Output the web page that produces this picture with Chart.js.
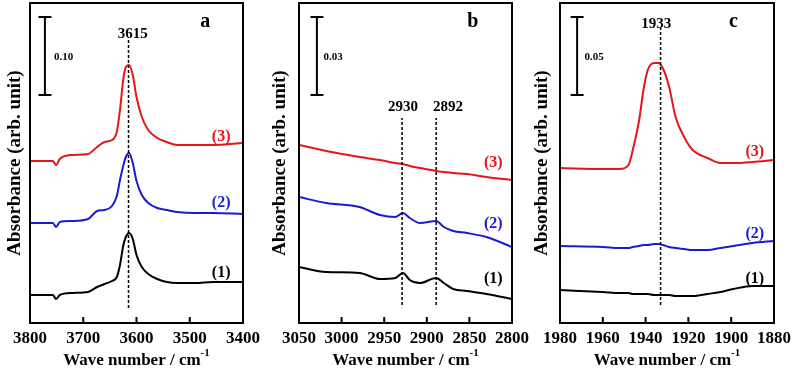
<!DOCTYPE html>
<html>
<head>
<meta charset="utf-8">
<script src="https://cdn.jsdelivr.net/npm/chart.js@4.4.1/dist/chart.umd.min.js"></script>
<style>
  body { margin: 0; background: #fff; width: 795px; height: 375px; overflow: hidden; position: relative; }
  canvas { position: absolute; top: 0; }
</style>
</head>
<body>
<canvas id="panelA" width="262" height="375" style="left:0px"></canvas>
<canvas id="panelB" width="268" height="375" style="left:262px"></canvas>
<canvas id="panelC" width="265" height="375" style="left:530px"></canvas>
<script>
// panel a : O-H region
const waveA = [3800, 3757, 3751, 3744, 3721, 3691, 3674, 3660, 3646, 3637, 3631, 3625, 3620, 3614, 3607, 3600, 3590, 3578, 3561, 3543, 3524, 3490, 3456, 3400];
const absA1 = [28, 28, 24, 28, 30, 31, 36, 39, 42, 46, 58, 77, 86, 90, 84, 68, 56, 49, 44, 41, 40, 40, 41, 41];
const absA2 = [100, 100, 96, 101, 102, 104, 112, 113, 117, 127, 143, 157, 166, 170, 160, 142, 128, 120, 115, 113, 111, 110, 110, 109];
const absA3 = [162, 162, 158, 164, 168, 169, 176, 181, 183, 191, 213, 243, 256, 258, 248, 226, 206, 193, 185, 181, 178, 178, 178, 180];
const ticksA = [3800, 3700, 3600, 3500, 3400];

// panel b : C-H region
const waveB = [3050, 3018, 2979, 2955, 2937, 2928, 2920, 2908, 2889, 2880, 2869, 2853, 2830, 2800];
const absB1 = [56, 51, 50, 44, 45, 50, 43, 40, 45, 40, 34, 32, 29, 24];
const absB2 = [126, 120, 116, 108, 106, 110, 105, 100, 102, 96, 92, 90, 86, 76];
const absB3 = [178, 172, 166, 163, 160, 159, 157, 155, 152, 151, 150, 149, 146, 143];
const ticksB = [3050, 3000, 2950, 2900, 2850, 2800];

// panel c : carbonyl region
const waveC = [1980, 1960, 1952, 1948, 1946, 1943, 1941, 1939, 1936, 1934, 1932, 1929, 1926, 1922, 1918, 1911, 1905, 1899, 1890, 1880];
const absC1 = [33, 31, 30, 30, 29, 29, 29, 29, 28, 28, 28, 28, 27, 27, 27, 29, 31, 34, 37, 37];
const absC2 = [77, 76, 75, 75, 76, 77, 78, 78, 79, 79, 78, 76, 75, 74, 73, 73, 75, 77, 80, 82];
const absC3 = [155, 154, 154, 158, 173, 203, 233, 253, 260, 260, 255, 236, 206, 186, 173, 165, 160, 160, 161, 163];
const ticksC = [1980, 1960, 1940, 1920, 1900, 1880];

const serif = "'Liberation Serif', 'Times New Roman', serif";
const RED = "#e3161c";
const BLUE = "#1b1bd2";

const panelDecor = {
  id: "panelDecor",
  afterDraw(chart, args, opts) {
    const { ctx, chartArea: area } = chart;
    const x = chart.scales.x;
    const y = chart.scales.y;
    ctx.save();
    ctx.strokeStyle = "#000";
    ctx.lineWidth = 2;
    ctx.strokeRect(area.left, area.top, area.right - area.left, area.bottom - area.top);

    // ticks pointing inward
    x.ticks.forEach((t) => {
      const px = x.getPixelForValue(t.value);
      ctx.beginPath();
      ctx.moveTo(px, area.bottom);
      ctx.lineTo(px, area.bottom - 6);
      ctx.stroke();
    });

    // scale bar
    const bx = x.getPixelForValue(opts.bar.x);
    const by1 = y.getPixelForValue(opts.bar.top);
    const by2 = y.getPixelForValue(opts.bar.bottom);
    ctx.beginPath();
    ctx.moveTo(bx, by1);
    ctx.lineTo(bx, by2);
    ctx.moveTo(bx - 6.5, by1);
    ctx.lineTo(bx + 6.5, by1);
    ctx.moveTo(bx - 6.5, by2);
    ctx.lineTo(bx + 6.5, by2);
    ctx.stroke();

    ctx.textAlign = "center";
    ctx.textBaseline = "middle";
    opts.texts.forEach((t) => {
      ctx.fillStyle = t.color || "#000";
      ctx.font = `bold ${t.size}px ${serif}`;
      ctx.fillText(t.text, x.getPixelForValue(t.x), y.getPixelForValue(t.y));
    });

    // x title with superscript
    const main = "Wave number / cm";
    const sup = "-1";
    ctx.fillStyle = "#000";
    ctx.textBaseline = "alphabetic";
    ctx.textAlign = "left";
    ctx.font = `bold 17px ${serif}`;
    const w1 = ctx.measureText(main).width;
    ctx.font = `bold 11px ${serif}`;
    const w2 = ctx.measureText(sup).width;
    const cx = (area.left + area.right) / 2;
    const start = cx - (w1 + w2) / 2;
    ctx.font = `bold 17px ${serif}`;
    ctx.fillText(main, start, 365);
    ctx.font = `bold 11px ${serif}`;
    ctx.fillText(sup, start + w1, 356);
    ctx.restore();
  },
};

function lineSet(values, waves, color) {
  return {
    data: waves.map((w, i) => ({ x: w, y: values[i] })),
    borderColor: color,
    borderWidth: 2,
    pointRadius: 0,
    cubicInterpolationMode: "monotone",
  };
}

function dashSet(wave, from, to) {
  return {
    data: [{ x: wave, y: from }, { x: wave, y: to }],
    borderColor: "#000",
    borderWidth: 1.5,
    borderDash: [3, 2],
    pointRadius: 0,
  };
}

function makePanel(id, cfg) {
  new Chart(document.getElementById(id), {
    type: "line",
    data: {
      datasets: [
        ...cfg.dashes,
        lineSet(cfg.s1, cfg.waves, "#000"),
        lineSet(cfg.s2, cfg.waves, BLUE),
        lineSet(cfg.s3, cfg.waves, RED),
      ],
    },
    options: {
      responsive: false,
      animation: false,
      devicePixelRatio: 1,
      layout: { padding: cfg.padding },
      plugins: {
        legend: { display: false },
        tooltip: { enabled: false },
        panelDecor: cfg.decor,
      },
      scales: {
        x: {
          type: "linear",
          reverse: true,
          min: cfg.ticks[cfg.ticks.length - 1],
          max: cfg.ticks[0],
          afterBuildTicks: (scale) => {
            scale.ticks = cfg.ticks.map((v) => ({ value: v }));
          },
          afterFit: (scale) => {
            scale.height = 52;
            // let the layout padding alone decide the plot edges
            scale.paddingLeft = 0;
            scale.paddingRight = 0;
          },
          grid: { display: false, drawTicks: false },
          border: { display: false },
          ticks: {
            padding: 5,
            color: "#000",
            font: { family: serif, size: 17, weight: "bold" },
            callback: (v) => String(v),
            maxRotation: 0,
            autoSkip: false,
          },
        },
        y: {
          min: 0,
          max: 320,
          afterFit: (scale) => {
            scale.width = cfg.yWidth;
          },
          grid: { display: false, drawTicks: false },
          border: { display: false },
          ticks: { display: false },
          title: {
            display: true,
            text: "Absorbance (arb. unit)",
            color: "#000",
            padding: 0,
            font: { family: serif, size: 19, weight: "bold" },
          },
        },
      },
    },
    plugins: [panelDecor],
  });
}

makePanel("panelA", {
  waves: waveA, s1: absA1, s2: absA2, s3: absA3, ticks: ticksA,
  padding: { left: 4, right: 19, top: 3, bottom: 0 },
  yWidth: 26,
  dashes: [dashSet(3615, 15, 285)],
  decor: {
    bar: { x: 3772, top: 306, bottom: 228 },
    texts: [
      { text: "a", x: 3471, y: 301, size: 20 },
      { text: "3615", x: 3607, y: 289, size: 15 },
      { text: "0.10", x: 3737, y: 266, size: 11 },
      { text: "(3)", x: 3441, y: 186, size: 16, color: RED },
      { text: "(2)", x: 3441, y: 120, size: 16, color: BLUE },
      { text: "(1)", x: 3441, y: 50, size: 16 },
    ],
  },
});

makePanel("panelB", {
  waves: waveB, s1: absB1, s2: absB2, s3: absB3, ticks: ticksB,
  padding: { left: 7, right: 18, top: 3, bottom: 0 },
  yWidth: 30,
  dashes: [dashSet(2929, 18, 205), dashSet(2889, 18, 205)],
  decor: {
    bar: { x: 3029, top: 306, bottom: 228 },
    texts: [
      { text: "b", x: 2846, y: 301, size: 20 },
      { text: "2930", x: 2928, y: 216, size: 15 },
      { text: "2892", x: 2875, y: 216, size: 15 },
      { text: "0.03", x: 3010, y: 266, size: 11 },
      { text: "(3)", x: 2822, y: 160, size: 16, color: RED },
      { text: "(2)", x: 2822, y: 99, size: 16, color: BLUE },
      { text: "(1)", x: 2822, y: 44, size: 16 },
    ],
  },
});

makePanel("panelC", {
  waves: waveC, s1: absC1, s2: absC2, s3: absC3, ticks: ticksC,
  padding: { left: 1, right: 21, top: 3, bottom: 0 },
  yWidth: 29,
  dashes: [dashSet(1933, 18, 295)],
  decor: {
    bar: { x: 1972, top: 306, bottom: 228 },
    texts: [
      { text: "c", x: 1899, y: 301, size: 20 },
      { text: "1933", x: 1935, y: 299, size: 15 },
      { text: "0.05", x: 1964, y: 266, size: 11 },
      { text: "(3)", x: 1889, y: 171, size: 16, color: RED },
      { text: "(2)", x: 1889, y: 89, size: 16, color: BLUE },
      { text: "(1)", x: 1889, y: 44, size: 16 },
    ],
  },
});
</script>
</body>
</html>
